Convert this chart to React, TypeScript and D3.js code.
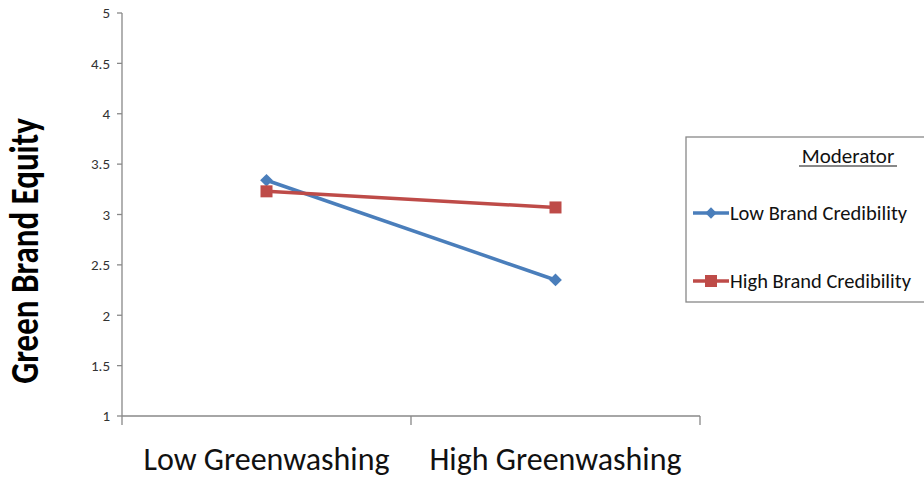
import React from "react";
import * as d3 from "d3";

const categories = ["Low Greenwashing", "High Greenwashing"];
const lowCred = [3.34, 2.35];
const highCred = [3.23, 3.07];
const yTicks = [1, 1.5, 2, 2.5, 3, 3.5, 4, 4.5, 5];
const seriesNames = ["Low Brand Credibility", "High Brand Credibility"];
const colors = ["#4A7EBB", "#BE4B48"];

const W = 924, H = 478;
const left = 122, right = 700, top = 13, bottom = 416;
const FONT = "Carlito, Calibri, Lato, 'Open Sans', sans-serif";

export default function App() {
  const x = d3.scaleBand<string>().domain(categories).range([left, right]);
  const y = d3.scaleLinear().domain([1, 5]).range([bottom, top]);
  const cx = (c: string) => (x(c) as number) + x.bandwidth() / 2;
  const line = d3.line<[string, number]>().x((d) => cx(d[0])).y((d) => y(d[1]));
  const series = [lowCred, highCred];
  const bounds = [left, ...categories.map((c) => (x(c) as number) + x.bandwidth())];

  return (
    <svg width={W} height={H} style={{ position: "absolute", left: 0, top: 0, background: "#fff" }} fontFamily={FONT}>
      <rect x={0} y={0} width={W} height={H} fill="#fff" />
      {/* y axis */}
      <line x1={left} x2={left} y1={top} y2={bottom} stroke="#888" strokeWidth={1.3} />
      {yTicks.map((t) => (
        <g key={t}>
          <line x1={left - 5} x2={left} y1={y(t)} y2={y(t)} stroke="#888" strokeWidth={1.3} />
          <text x={left - 12} y={y(t)} dy="0.35em" textAnchor="end" fontSize={15} fill="#333">
            {String(t)}
          </text>
        </g>
      ))}
      {/* x axis */}
      <line x1={left} x2={right} y1={bottom} y2={bottom} stroke="#888" strokeWidth={1.3} />
      {bounds.map((b, i) => (
        <line key={i} x1={b} x2={b} y1={bottom} y2={bottom + 9} stroke="#888" strokeWidth={1.3} />
      ))}
      {categories.map((c) => (
        <text key={c} x={cx(c)} y={470} textAnchor="middle" fontSize={32} fill="#111">
          {c}
        </text>
      ))}
      <text transform={`translate(38,251) scale(1.2,1) rotate(-90)`} textAnchor="middle" fontSize={33} fontWeight="bold" fill="#000">
        Green Brand Equity
      </text>
      {/* series */}
      {series.map((s, i) => {
        const pts = categories.map((c, j) => [c, s[j]] as [string, number]);
        return (
          <g key={i}>
            <path d={line(pts) || ""} fill="none" stroke={colors[i]} strokeWidth={3.5} />
            {pts.map((p, j) =>
              i === 0 ? (
                <rect key={j} x={-4.5} y={-4.5} width={9} height={9} fill={colors[i]}
                  transform={`translate(${cx(p[0])},${y(p[1])}) rotate(45)`} />
              ) : (
                <rect key={j} x={cx(p[0]) - 6} y={y(p[1]) - 6} width={12} height={12} fill={colors[i]} />
              )
            )}
          </g>
        );
      })}
      {/* legend */}
      <rect x={686} y={137} width={250} height={165} fill="#fff" stroke="#888" strokeWidth={1.3} />
      <text x={848} y={163} textAnchor="middle" fontSize={21} fill="#111">
        Moderator
      </text>
      <line x1={799} x2={897} y1={166} y2={166} stroke="#111" strokeWidth={1.2} />
      {seriesNames.map((n, i) => {
        const ly = i === 0 ? 213 : 281;
        return (
          <g key={n}>
            <line x1={693} x2={729} y1={ly} y2={ly} stroke={colors[i]} strokeWidth={3.5} />
            {i === 0 ? (
              <rect x={-4} y={-4} width={8} height={8} fill={colors[i]} transform={`translate(711,${ly}) rotate(45)`} />
            ) : (
              <rect x={705} y={ly - 6} width={12} height={12} fill={colors[i]} />
            )}
            <text x={730} y={ly} dy="0.35em" fontSize={20.5} fill="#111">{n}</text>
          </g>
        );
      })}
    </svg>
  );
}
